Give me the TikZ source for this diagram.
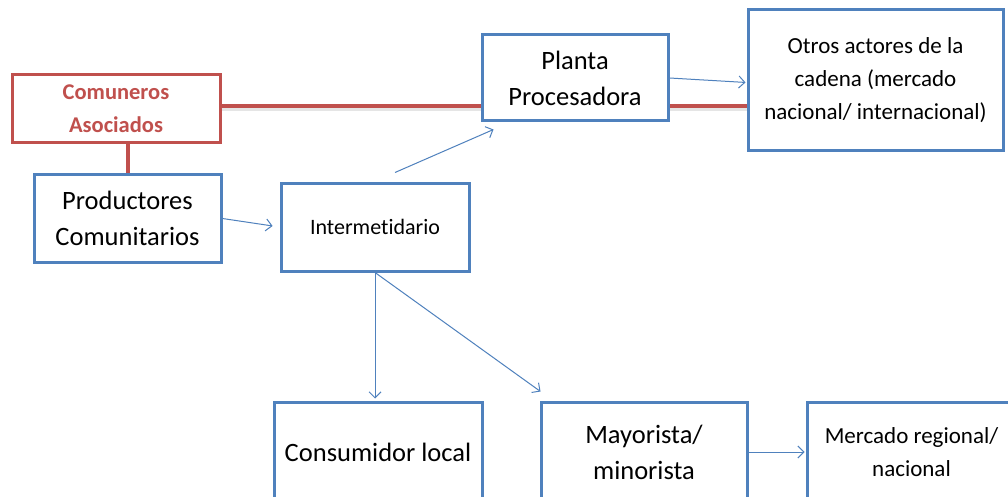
\documentclass[tikz,border=0pt]{standalone}
\usepackage{fontspec}
\setmainfont[Ligatures={NoCommon}]{Carlito}
\usetikzlibrary{arrows.meta}
\definecolor{boxblue}{HTML}{4F81BD}
\definecolor{boxred}{HTML}{C0504D}
\tikzset{
  bluebox/.style={draw=boxblue, line width=3pt, fill=white, inner sep=0pt, align=center},
  redbox/.style={draw=boxred, line width=3pt, fill=white, inner sep=0pt, align=center,
    text=boxred, font=\fontsize{22.5}{33}\selectfont\bfseries},
  bigtxt/.style={font=\fontsize{26.5}{36}\selectfont},
  midtxt/.style={font=\fontsize{23}{33}\selectfont},
  smalltxt/.style={font=\fontsize{22}{30}\selectfont},
  arr/.style={draw=boxblue, line width=1pt, -{Straight Barb[length=6pt,width=12pt]}},
  redline/.style={draw=boxred, line width=4pt},
}
\begin{document}
\begin{tikzpicture}[x=1pt,y=-1pt]
\useasboundingbox (0,0) rectangle (1008,497);
\clip (0,0) rectangle (1008,497);
\fill[white] (0,0) rectangle (1008,497);
% top nodes
\node[redbox, minimum width=208pt, minimum height=68pt] (com) at (116,108.5) {Comuneros\\Asociados};
\node[bluebox, midtxt, minimum width=255pt, minimum height=141pt] (otros) at (875.5,80.5) {Otros actores de la\\cadena (mercado\\nacional/ internacional)};
\coordinate (rl) at (0,106);
\draw[gray!20, line width=3pt] ([yshift=-3.5pt]com.east |- rl) -- ([yshift=-3.5pt]otros.west |- rl);
\draw[redline] (com.east |- rl) -- (otros.west |- rl);
\node[bluebox, bigtxt, minimum width=186pt, minimum height=86pt] (planta) at (575,78) {Planta\\Procesadora};
\node[bluebox, bigtxt, minimum width=187pt, minimum height=87pt] (prod) at (127.5,218.5) {Productores\\Comunitarios};
\draw[redline] (prod.north |- com.south) -- (prod.north);
\node[bluebox, smalltxt, minimum width=188pt, minimum height=88pt] (inter) at (375,227) {Intermetidario};
\node[bluebox, bigtxt, minimum width=208pt, minimum height=100pt] (cons) at (378,452) {Consumidor local};
\node[bluebox, bigtxt, minimum width=206pt, minimum height=100pt] (mayo) at (644,452) {Mayorista/\\minorista};
\node[bluebox, midtxt, minimum width=209pt, minimum height=100pt] (merc) at (911.5,452) {Mercado regional/\\nacional};
% arrows
\draw[arr, shorten >=7pt] (prod.east) -- (inter.west);
\draw[arr] ([shift={(20,-9)}]inter.north) -- ([shift={(13,7)}]planta.south west);
\draw[arr, shorten >=1pt] (planta.east) -- ([yshift=-2pt]otros.west);
\draw[arr, shorten >=2pt] (inter.south) -- (inter.south |- cons.north);
\draw[arr] (inter.south) -- ([shift={(1,-9)}]mayo.north west);
\draw[arr, shorten >=1pt] (mayo.east) -- (merc.west);
\end{tikzpicture}
\end{document}
